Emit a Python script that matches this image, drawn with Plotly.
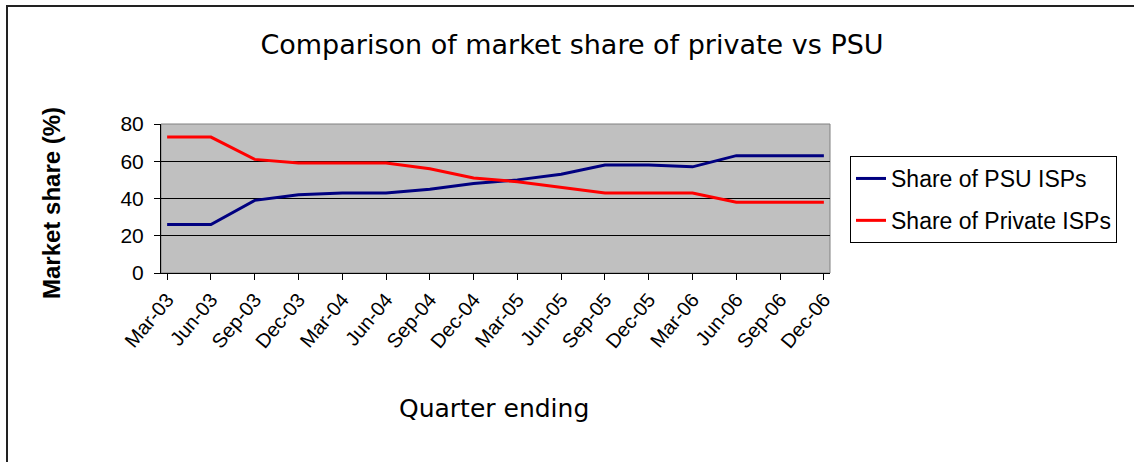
import plotly.graph_objects as go

quarters = ["Mar-03", "Jun-03", "Sep-03", "Dec-03", "Mar-04", "Jun-04", "Sep-04", "Dec-04",
            "Mar-05", "Jun-05", "Sep-05", "Dec-05", "Mar-06", "Jun-06", "Sep-06", "Dec-06"]
psu_share = [26, 26, 39, 42, 43, 43, 45, 48, 50, 53, 58, 58, 57, 63, 63, 63]
private_share = [73, 73, 61, 59, 59, 59, 56, 51, 49, 46, 43, 43, 43, 38, 38, 38]

W, H = 1134, 462
L, R, T, B = 161, 830, 124, 273  # plot area in pixels


def px(x):
    return (x - L) / (R - L)


def py(y):
    return (B - y) / (B - T)


fig = go.Figure()
fig.add_trace(go.Scatter(x=quarters, y=psu_share, mode="lines", name="Share of PSU ISPs",
                         line=dict(color="#000080", width=3), legendgroup="a"))
fig.add_trace(go.Scatter(x=quarters, y=private_share, mode="lines", name="Share of Private ISPs",
                         line=dict(color="#FF0000", width=3), legendgroup="b"))

fig.update_layout(
    width=W, height=H,
    margin=dict(l=L, r=W - R, t=T, b=H - B, autoexpand=False),
    paper_bgcolor="white",
    plot_bgcolor="#C0C0C0",
    font=dict(family="Liberation Sans, Arial, sans-serif", color="black"),
    title=dict(text="Comparison of market share of private vs PSU",
               font=dict(family="DejaVu Sans", size=27, color="black"),
               x=572 / W, xanchor="center", xref="container",
               y=1 - 45 / H, yanchor="middle", yref="container"),
    legend=dict(x=px(850), y=py(156), xanchor="left", yanchor="top",
                bordercolor="black", borderwidth=1, bgcolor="white",
                font=dict(size=23, family="Liberation Sans, Arial"),
                tracegroupgap=9, traceorder="grouped"),
    showlegend=True,
)

fig.update_xaxes(
    type="category", range=[-0.14, 15.14],
    showline=True, linecolor="black", linewidth=1,
    ticks="outside", ticklen=6, tickcolor="black",
    tickangle=-50, tickfont=dict(size=20, family="Liberation Sans, Arial"),
    showgrid=False, zeroline=False,
)
fig.update_yaxes(
    range=[0, 80], dtick=20, tick0=0,
    showline=True, linecolor="black", linewidth=1,
    ticks="outside", ticklen=6, tickcolor="black",
    tickfont=dict(size=21, family="Liberation Sans, Arial"),
    ticklabelstandoff=6,
    showgrid=True, gridcolor="black", gridwidth=1, zeroline=False,
)

# plot area border (grey, top/right)
fig.add_shape(type="rect", xref="paper", yref="paper", x0=0, y0=0, x1=1, y1=1,
              line=dict(color="#808080", width=1), layer="below")
# outer chart border
fig.add_shape(type="rect", xref="paper", yref="paper",
              x0=px(7), y0=py(520), x1=px(1200), y1=py(6),
              line=dict(color="#222222", width=2))

fig.add_annotation(text="Quarter ending", xref="paper", yref="paper",
                   x=px(494), y=py(408), xanchor="center", yanchor="middle",
                   showarrow=False, font=dict(family="DejaVu Sans", size=25, color="black"))
fig.add_annotation(text="<b>Market share (%)</b>", xref="paper", yref="paper",
                   x=px(51), y=py(203), xanchor="center", yanchor="middle", textangle=-90,
                   showarrow=False, font=dict(family="Liberation Sans, Arial", size=24, color="black"))

fig.write_html("out.html",
               config={"displayModeBar": False},
               post_script="document.body.style.margin='0';document.body.style.overflow='hidden';")
